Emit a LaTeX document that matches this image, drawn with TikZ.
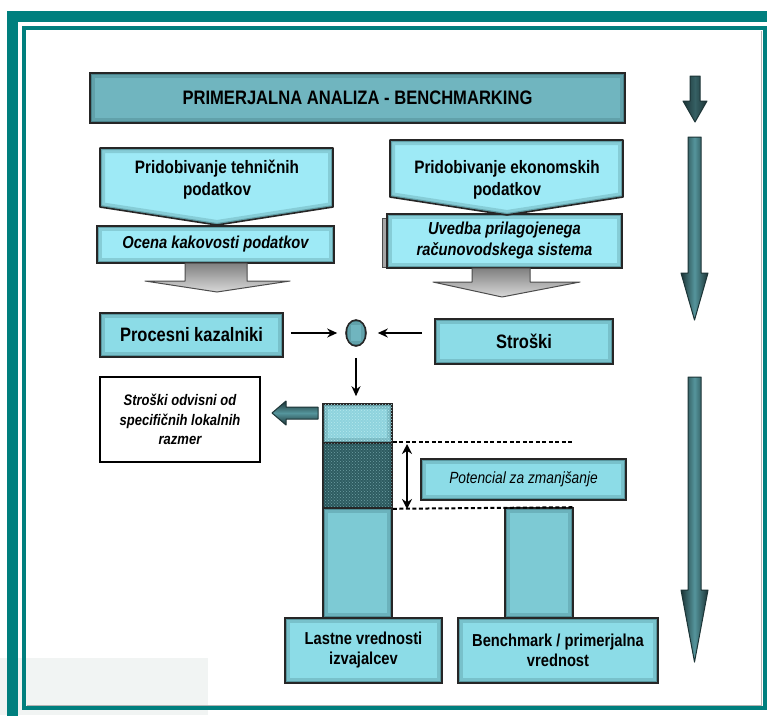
\documentclass[tikz,border=0pt]{standalone}
\usepackage{fontspec}
\setmainfont[FakeStretch=0.85]{Liberation Sans}
\usetikzlibrary{arrows.meta, patterns, shapes.geometric}

\definecolor{frameteal}{HTML}{007F7E}
\definecolor{titlefill}{HTML}{70B5BF}
\definecolor{boxfill}{HTML}{8CDCE7}
\definecolor{lightfill}{HTML}{9EEAF6}
\definecolor{barfill}{HTML}{7DCAD4}
\definecolor{hatchfill}{HTML}{2E5C61}
\definecolor{hatchdot}{HTML}{6E9FA4}
\definecolor{topfill}{HTML}{8ED3DD}
\definecolor{topdot}{HTML}{B6E8EE}
\definecolor{glowcol}{HTML}{1E4A4F}
\definecolor{arrowdark}{HTML}{1C3436}
\definecolor{arrowmid}{HTML}{55959C}
\definecolor{faintgray}{HTML}{F1F4F3}

\tikzset{
  glow/.style={path picture={
      \draw[draw=glowcol, line width=10pt, opacity=.18]
        (path picture bounding box.south west) rectangle (path picture bounding box.north east);
      \draw[draw=glowcol, line width=4pt, opacity=.35]
        (path picture bounding box.south west) rectangle (path picture bounding box.north east);}},
  box/.style={draw=black!85, line width=1.6pt, fill=boxfill, glow, align=center, inner sep=0pt},
  bigtext/.style={font=\fontsize{19.4}{22}\selectfont\bfseries},
  boldtext/.style={font=\fontsize{17.3}{20}\selectfont\bfseries},
  slanttext/.style={font=\fontsize{17.3}{21}\selectfont\bfseries\itshape},
  barseg/.style={draw=black!85, line width=1.6pt, fill=barfill, glow, inner sep=0pt, minimum width=69pt},
  hatchseg/.style={barseg, fill=hatchfill, postaction={pattern=crosshatch dots, pattern color=hatchdot}},
  lightseg/.style={barseg, fill=topfill, postaction={pattern=crosshatch dots, pattern color=topdot}},
  conn/.style={-{Stealth[length=10pt, width=9pt]}, line width=2pt, black},
  gapline/.style={line width=2pt, black, dash pattern=on 4pt off 2.5pt},
  grayarrow/.style={draw=black!70, line width=1pt, top color=black!50, bottom color=black!15, line join=round},
  bigarrow/.style={draw=arrowdark, line width=1pt, left color=arrowdark, right color=arrowdark, middle color=arrowmid, line join=round},
  fatarrow/.style={draw=arrowdark, line width=1pt, top color=arrowdark, bottom color=arrowdark, middle color=arrowmid, line join=round}
}

% pentagon with inner glow
\newcommand{\glowpath}[2]{%
  \fill[#1] #2;
  \begin{scope}
    \clip #2;
    \draw[glowcol, line width=10pt, opacity=.18] #2;
    \draw[glowcol, line width=4pt, opacity=.35] #2;
  \end{scope}
  \draw[black!85, line width=1.6pt, line join=round] #2;}

\begin{document}
\begin{tikzpicture}[x=1pt, y=-1pt]
        \useasboundingbox (0,0) rectangle (767,715);
        \fill[white] (0,0) rectangle (767,715);
        \fill[faintgray] (0,658) rectangle (208,715);

        % Frame
        \draw[frameteal, line width=11pt] (12.5,720) -- (12.5,16.5) -- (775,16.5);
        \draw[frameteal, line width=4pt] (24,28) rectangle (765,708);
        \draw[black!30, line width=1pt] (27,705.5) -- (761,705.5) -- (761,31);

        % Title
        \node[box, fill=titlefill, minimum width=535pt, minimum height=50pt,
              font=\fontsize{19.5}{22}\selectfont\bfseries] (title) at (357.5,98)
            {PRIMERJALNA ANALIZA - BENCHMARKING};

        % Data boxes
        \node[box, slanttext, fill=lightfill, minimum width=237pt, minimum height=37pt] (quality) at (215.5,244.5)
            {Ocena kakovosti podatkov};
        \draw[black!70, fill=black!35, line width=1pt] (382,218) rectangle (400,267);
        \node[box, slanttext, fill=lightfill, minimum width=235pt, minimum height=54pt] (account) at (504.5,241)
            {Uvedba prilagojenega\\ računovodskega sistema};

        \glowpath{lightfill}{(100,148) -- (333,148) -- (333,207) -- (217,225) -- (100,207) -- cycle}
        \glowpath{lightfill}{(390,140) -- (623,140) -- (623,197) -- (507,215) -- (390,197) -- cycle}
        \node[align=center, font=\fontsize{18}{22}\selectfont\bfseries] (techdata) at (217,180)
            {Pridobivanje tehničnih\\ podatkov};
        \node[align=center, font=\fontsize{18}{22}\selectfont\bfseries] (ecodata) at (507,180)
            {Pridobivanje ekonomskih\\ podatkov};

        \draw[grayarrow] (185,263) -- (247,263) -- (247,281) -- (290,281) -- (217,292) -- (145,281) -- (185,281) -- cycle;
        \draw[grayarrow] (472,268) -- (530,268) -- (530,282) -- (580,282) -- (502,297) -- (433,282) -- (472,282) -- cycle;

        % Indicators and costs
        \node[box, bigtext, minimum width=183pt, minimum height=44pt] (proc) at (191.5,335) {Procesni kazalniki};
        \node[box, bigtext, minimum width=178pt, minimum height=45pt] (cost) at (524,341.5) {Stroški};
        \node[ellipse, draw=black!85, line width=1.6pt, fill=titlefill, glow, minimum width=20pt, minimum height=26pt, inner sep=0pt] (mix) at (356,333) {};

        \node[draw=black, line width=2.5pt, fill=white, align=center, minimum width=160pt, minimum height=85pt, inner sep=0pt,
              font=\fontsize{15.3}{19.5}\selectfont\bfseries\itshape] (local) at (180,419.5)
            {Stroški odvisni od\\ specifičnih lokalnih\\ razmer};

        % Bars
        \node[lightseg, minimum height=39pt] (bartop) at (357.5,423.5) {};
        \node[hatchseg, minimum height=65pt] (barmid) at (357.5,475.5) {};
        \node[barseg, minimum height=110pt] (barlow) at (357.5,563) {};
        \node[barseg, minimum width=68pt, minimum height=110pt] (rbar) at (539,563) {};

        \node[box, boldtext, minimum width=157pt, minimum height=65pt] (own) at (363.5,650.5)
            {Lastne vrednosti\\ izvajalcev};
        \node[box, boldtext, minimum width=200pt, minimum height=65pt] (bench) at (558,650.5)
            {Benchmark / primerjalna\\ vrednost};
        \node[box, minimum width=205pt, minimum height=41pt, font=\fontsize{16.2}{19}\selectfont\itshape] (potential) at (523.5,479.5)
            {Potencial za zmanjšanje};

        % Lines
        \draw[conn, shorten <=7pt, shorten >=8pt] (proc.east |- mix) -- (mix);
        \draw[conn, shorten <=12pt, shorten >=11pt] (cost.west |- mix) -- (mix);
        \draw[conn, shorten <=11pt, shorten >=7pt] (mix) -- (mix |- bartop.north);
        \draw[gapline] (barmid.north east) -- (barmid.north east -| rbar.east);
        \draw[gapline] (barmid.south east) -- (rbar.north east);
        \coordinate (gapT) at (407,444);
        \coordinate (gapB) at (407,509);
        \draw[{Stealth[length=10pt, width=10pt]}-{Stealth[length=10pt, width=10pt]}, line width=2pt] (gapT) -- (gapB);

        \draw[fatarrow] (318,407) -- (286,407) -- (286,401) -- (272,413) -- (286,425) -- (286,419) -- (318,419) -- cycle;

        % Side arrows
        \draw[bigarrow, middle color=arrowdark!55!arrowmid] (690,76) -- (700,76) -- (700,101) -- (707,101) -- (695,122) -- (683,101) -- (690,101) -- cycle;
        \draw[bigarrow] (688,137) -- (701,137) -- (701,273) -- (708,273) -- (694.5,320) -- (681,273) -- (688,273) -- cycle;
        \draw[bigarrow] (688,377) -- (701,377) -- (701,590) -- (708,590) -- (694.5,662) -- (681,590) -- (688,590) -- cycle;
    \end{tikzpicture}
\end{document}
